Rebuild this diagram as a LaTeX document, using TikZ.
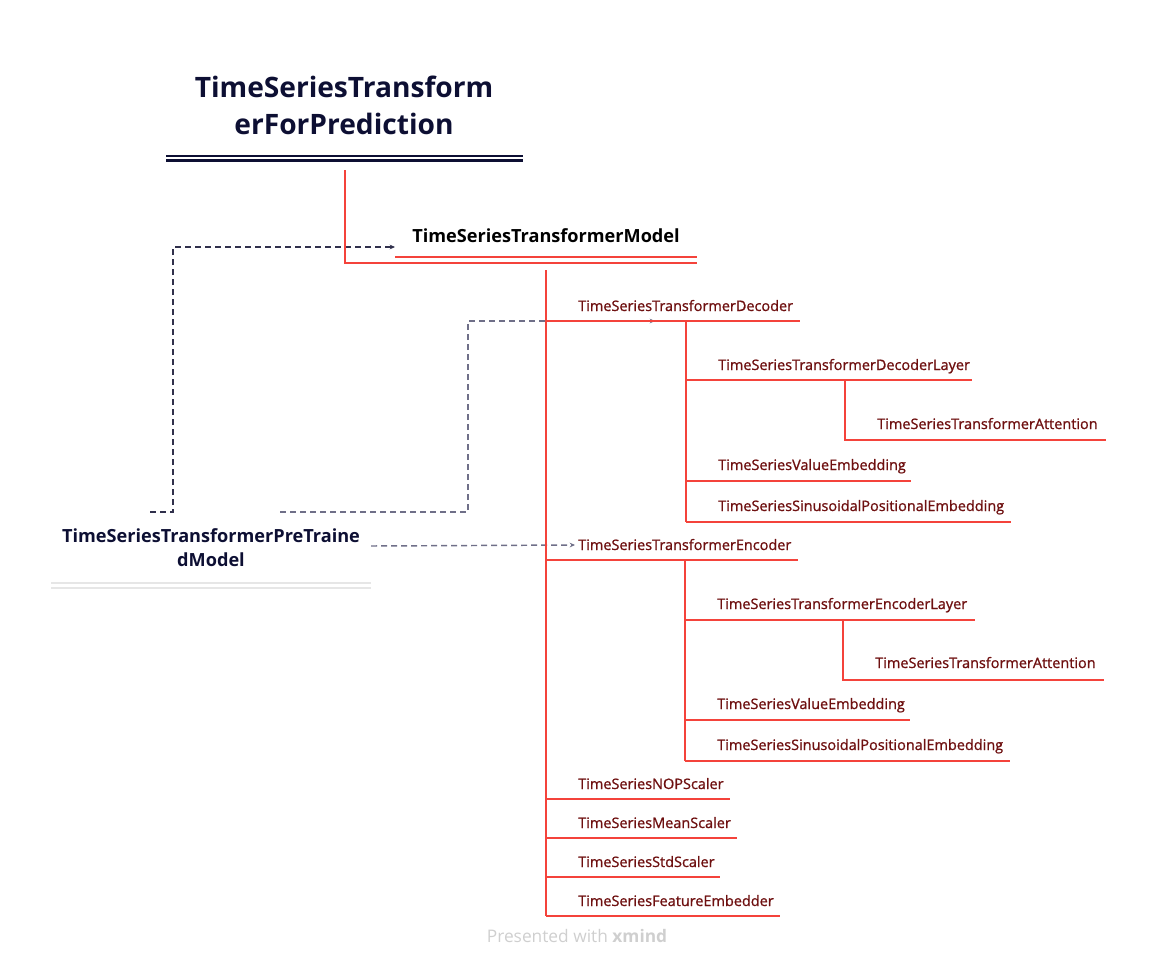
\documentclass[tikz,border=0pt]{standalone}
\usepackage{fontspec}
\setmainfont{Open Sans}
\newfontfamily\leaffont{Open Sans}[FakeBold=1]
\usetikzlibrary{arrows.meta}

\definecolor{navy}{HTML}{0D0F33}
\definecolor{branch}{HTML}{F4433B}
\definecolor{leaftext}{HTML}{6E1010}
\definecolor{linkdark}{HTML}{30304C}
\definecolor{linkgray}{HTML}{6F6F88}
\definecolor{palegray}{HTML}{E6E6E6}
\definecolor{footgray}{HTML}{CFCFCF}

\tikzset{
	leaf/.style={anchor=base west, inner sep=0pt, text=leaftext, font=\leaffont\fontsize{10.85}{12}\selectfont},
	branchline/.style={draw=branch, line width=1.7pt},
	link/.style={line width=1.1pt, dash pattern=on 4.5pt off 3pt, -{Stealth[length=4pt,width=3.5pt]}}
}

\begin{document}
\begin{tikzpicture}[x=0.75pt, y=-0.75pt]
		\useasboundingbox (0,0) rectangle (1156,968);

		% root
		\node[anchor=base, align=center, inner sep=0pt, text=navy, font=\fontsize{21.1}{27.75}\selectfont\bfseries] (root) at (344,134) {TimeSeriesTransform\\erForPrediction};
		\draw[navy, line width=2pt] (166,156) -- (523,156);
		\draw[navy, line width=2pt] (166,160.5) -- (523,160.5);
		\coordinate (root-s) at (345,170);

		% floating topic
		\node[anchor=base, align=center, inner sep=0pt, text=navy, font=\fontsize{13.6}{18}\selectfont\bfseries] (pre) at (211,566) {TimeSeriesTransformerPreTraine\\dModel};
		\draw[palegray, line width=1.5pt] (51,583) -- (371,583);
		\draw[palegray, line width=1.5pt] (51,588) -- (371,588);

		% main topic
		\node[anchor=base, inner sep=0pt, font=\fontsize{13.6}{15}\selectfont\bfseries] (model) at (546,242) {TimeSeriesTransformerModel};
		\coordinate (model-l) at (345,263);
		\coordinate (model-r) at (697,263);
		\coordinate (model-s) at (546,270);

		% relationships
		\coordinate (rel1-a) at (150,512);
		\coordinate (rel1-b) at (173,512);
		\coordinate (rel1-c) at (173,247);
		\coordinate (rel1-d) at (395,247);
		\coordinate (rel2-a) at (280,512);
		\coordinate (rel2-b) at (468,512);
		\coordinate (rel2-c) at (468,321);
		\coordinate (rel2-d) at (655,321);
		\coordinate (rel3-a) at (371,546);
		\coordinate (rel3-b) at (575,545);

		\draw[link, linkdark] (rel1-a) -- (rel1-b) -- (rel1-c) -- (rel1-d);
		\draw[link, linkgray] (rel2-a) -- (rel2-b) -- (rel2-c) -- (rel2-d);
		\draw[link, linkgray] (rel3-a) -- (rel3-b);

		\draw[branchline] (root-s) -- (model-l) -- (model-r);
		\draw[branchline] (395,257) -- (697,257);

		% subtopics
		\node[leaf] (dec) at (578,311) {TimeSeriesTransformerDecoder};
		\node[leaf] (enc) at (578,550) {TimeSeriesTransformerEncoder};
		\node[leaf] (nop) at (578,789) {TimeSeriesNOPScaler};
		\node[leaf] (mean) at (578,828) {TimeSeriesMeanScaler};
		\node[leaf] (std) at (578,867) {TimeSeriesStdScaler};
		\node[leaf] (feat) at (578,906) {TimeSeriesFeatureEmbedder};

		\draw[branchline] (model-s) -- (546,916);
		\draw[branchline] (546,321) -- (800,321);
		\draw[branchline] (546,560) -- (798,560);
		\draw[branchline] (546,799) -- (730,799);
		\draw[branchline] (546,838) -- (737,838);
		\draw[branchline] (546,877) -- (720,877);
		\draw[branchline] (546,916) -- (780,916);

		% decoder
		\node[leaf] (declayer) at (718,370) {TimeSeriesTransformerDecoderLayer};
		\node[leaf] (decattn) at (877,429) {TimeSeriesTransformerAttention};
		\node[leaf] (decval) at (718,470) {TimeSeriesValueEmbedding};
		\node[leaf] (decpos) at (718,511) {TimeSeriesSinusoidalPositionalEmbedding};

		\draw[branchline] (686,321) -- (686,522);
		\draw[branchline] (686,380) -- (972,380);
		\draw[branchline] (845,380) -- (845,440) -- (1106,440);
		\draw[branchline] (686,481) -- (911,481);
		\draw[branchline] (686,522) -- (1011,522);

		% encoder
		\node[leaf] (enclayer) at (717,609) {TimeSeriesTransformerEncoderLayer};
		\node[leaf] (encattn) at (875,668) {TimeSeriesTransformerAttention};
		\node[leaf] (encval) at (717,709) {TimeSeriesValueEmbedding};
		\node[leaf] (encpos) at (717,750) {TimeSeriesSinusoidalPositionalEmbedding};

		\draw[branchline] (685,560) -- (685,761);
		\draw[branchline] (685,620) -- (975,620);
		\draw[branchline] (843,620) -- (843,680) -- (1104,680);
		\draw[branchline] (685,720) -- (910,720);
		\draw[branchline] (685,761) -- (1010,761);

		% footer
		\node[anchor=base, inner sep=0pt, text=footgray, font=\fontsize{13}{15}\selectfont] (foot) at (577,942) {Presented with \textbf{xmind}};
	\end{tikzpicture}
\end{document}
